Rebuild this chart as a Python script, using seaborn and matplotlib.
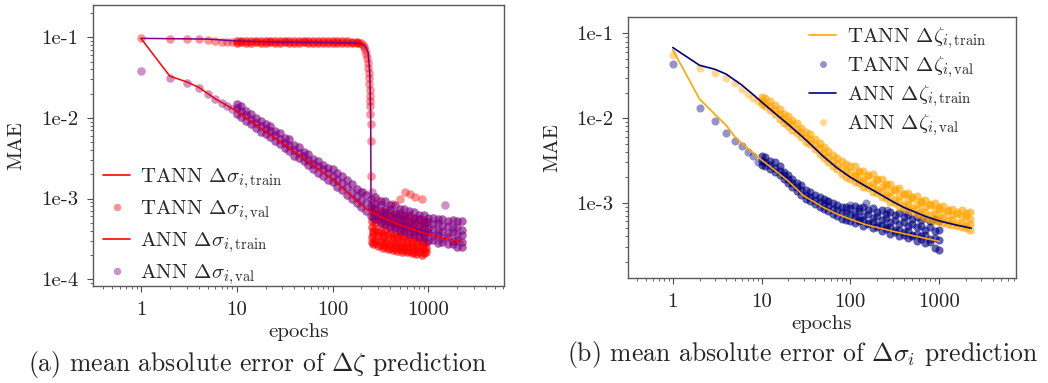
#!/usr/bin/env python3

##############################################################################
# Brief:
# learning curves (MAE over epochs) of TANN vs. plain ANN
#  left:  stress increment prediction, right: internal variable prediction
#  lines are training loss, dots are validation loss
##############################################################################

import numpy as np
import pandas as pd
import seaborn as sns
import matplotlib
matplotlib.use('Agg')
import matplotlib.pyplot as plt
from matplotlib.lines import Line2D
from matplotlib.ticker import FuncFormatter, LogLocator, NullFormatter

# ---------------------------------------------------------------- panel (a)
# TANN training loss: plateau, then collapse at ~250 epochs
a_tann_train_ep = [1, 5, 10, 30, 100, 180, 200, 220, 235, 245, 250, 252, 256, 300, 500, 1000]
a_tann_train = [0.097, 0.095, 0.090, 0.087, 0.086, 0.085, 0.083, 0.078, 0.065, 0.035,
                0.010, 0.0009, 0.00065, 0.00057, 0.00046, 0.00038]
# ANN training loss
a_ann_train_ep = [1, 2, 3, 4, 6, 10, 20, 46, 100, 150, 200, 250, 350, 500, 700, 1000, 1500, 2300]
a_ann_train = [0.097, 0.033, 0.028, 0.024, 0.0172, 0.0121, 0.0068, 0.0034, 0.00175, 0.00112,
               0.00083, 0.00068, 0.00056, 0.00047, 0.00041, 0.00036, 0.00032, 0.00029]

# TANN validation
a_tann_val_ep = [1, 2, 3, 4, 5, 6, 7, 8, 9]
a_tann_val = [0.097, 0.096, 0.096, 0.095, 0.093, 0.089, 0.088, 0.088, 0.088]
a_tann_flat_ep = [10, 11, 12.5, 14, 16, 18, 20, 22, 25, 28, 32, 35, 40, 45, 50, 56, 63, 70, 80,
                  90, 100, 112, 125, 140, 160, 180]
a_tann_flat = [
    [0.089, 0.090, 0.089, 0.090, 0.089, 0.090, 0.089, 0.090, 0.089, 0.090, 0.089, 0.090, 0.089,
     0.090, 0.089, 0.090, 0.089, 0.090, 0.089, 0.089, 0.090, 0.089, 0.089, 0.089, 0.088, 0.088],
    [0.086, 0.087, 0.086, 0.086, 0.087, 0.086, 0.086, 0.087, 0.086, 0.086, 0.087, 0.086, 0.086,
     0.086, 0.087, 0.086, 0.086, 0.086, 0.085, 0.086, 0.085, 0.086, 0.085, 0.085, 0.085, 0.084],
]
a_tann_drop_ep = [190, 200, 208, 214, 219, 224, 228, 232, 235, 238, 240, 242, 244, 245, 246,
                  247, 248, 249, 250, 251]
a_tann_drop = [0.086, 0.084, 0.080, 0.075, 0.069, 0.062, 0.055, 0.048, 0.042, 0.036, 0.031,
               0.026, 0.022, 0.0187, 0.0160, 0.0141, 0.0112, 0.0084, 0.0052, 0.0019]
a_tann_cloud_ep = [255, 265, 280, 300, 320, 340, 355, 380, 400, 425, 450, 475, 500, 530, 560,
                   600, 630, 670, 700, 750, 800, 850, 900, 950]
a_tann_cloud = [
    [7.6e-4, 6.6e-4, 7.3e-4, 6.4e-4, 7.0e-4, 6.2e-4, 6.8e-4, 6.0e-4, 6.6e-4, 5.8e-4, 6.4e-4,
     5.7e-4, 6.2e-4, 5.5e-4, 6.0e-4, 5.4e-4, 5.9e-4, 5.3e-4, 5.7e-4, 5.1e-4, 5.6e-4, 5.0e-4,
     5.4e-4, 5.0e-4],
    [5.3e-4, 5.9e-4, 5.1e-4, 5.6e-4, 4.9e-4, 5.4e-4, 4.7e-4, 5.2e-4, 4.6e-4, 5.0e-4, 4.4e-4,
     4.8e-4, 4.3e-4, 4.7e-4, 4.2e-4, 4.5e-4, 4.0e-4, 4.4e-4, 3.9e-4, 4.3e-4, 3.8e-4, 4.1e-4,
     3.7e-4, 4.0e-4],
    [4.4e-4, 3.9e-4, 4.2e-4, 3.8e-4, 4.0e-4, 3.6e-4, 3.9e-4, 3.5e-4, 3.7e-4, 3.4e-4, 3.6e-4,
     3.3e-4, 3.5e-4, 3.2e-4, 3.4e-4, 3.1e-4, 3.3e-4, 3.0e-4, 3.2e-4, 2.95e-4, 3.1e-4, 2.9e-4,
     3.0e-4, 2.85e-4],
    [3.3e-4, 3.6e-4, 3.1e-4, 3.4e-4, 3.0e-4, 3.2e-4, 2.85e-4, 3.1e-4, 2.75e-4, 2.95e-4, 2.7e-4,
     2.85e-4, 2.6e-4, 2.8e-4, 2.55e-4, 2.7e-4, 2.5e-4, 2.6e-4, 2.45e-4, 2.55e-4, 2.4e-4, 2.5e-4,
     2.35e-4, 2.4e-4],
    [2.9e-4, 2.7e-4, 2.8e-4, 2.55e-4, 2.65e-4, 2.45e-4, 2.55e-4, 2.35e-4, 2.45e-4, 2.3e-4, 2.4e-4,
     2.25e-4, 2.35e-4, 2.2e-4, 2.3e-4, 2.15e-4, 2.25e-4, 2.1e-4, 2.2e-4, 2.05e-4, 2.15e-4, 2.0e-4,
     2.1e-4, 2.2e-4],
]
a_tann_out_ep = [290, 420, 510, 575, 640, 730, 860]
a_tann_out = [9.5e-4, 8.6e-4, 1.0e-3, 1.2e-3, 1.15e-3, 1.05e-3, 1.0e-3]

# ANN validation
a_ann_val_ep = [1, 2, 3, 4, 5, 6, 7, 8, 9]
a_ann_val = [0.038, 0.0316, 0.027, 0.0233, 0.020, 0.0172, 0.0153, 0.0141, 0.0129]
a_ann_band_ep = [10, 11, 12.5, 14, 16, 18, 20, 22, 25, 28, 32, 35, 40, 45, 50, 56, 63, 70, 80,
                 90, 100, 112, 125, 140, 160, 180, 200, 225, 250]
a_ann_band = [
    [0.0150, 0.0140, 0.0122, 0.0113, 0.0099, 0.0091, 0.0083, 0.0079, 0.0069, 0.0065, 0.0056,
     0.0054, 0.0046, 0.0043, 0.0038, 0.0036, 0.0031, 0.0029, 0.0026, 0.0024, 0.0023, 0.0021,
     0.0019, 0.0017, 0.0015, 0.00132, 0.00120, 0.00110, 0.00100],
    [0.0131, 0.0121, 0.0108, 0.0097, 0.0087, 0.0079, 0.0073, 0.0068, 0.0061, 0.0055, 0.0049,
     0.0046, 0.0040, 0.0037, 0.0034, 0.0030, 0.0027, 0.0025, 0.0023, 0.0021, 0.0019, 0.0017,
     0.00155, 0.00138, 0.00121, 0.00107, 0.00096, 0.00088, 0.00080],
    [0.0112, 0.0104, 0.0092, 0.0084, 0.0075, 0.0067, 0.0063, 0.0058, 0.0052, 0.0048, 0.0042,
     0.0039, 0.0034, 0.0032, 0.0029, 0.0026, 0.0023, 0.0021, 0.0019, 0.0017, 0.0016, 0.0014,
     0.00126, 0.00112, 0.00099, 0.00087, 0.00078, 0.00069, 0.00060],
]
a_ann_tail_ep = [280, 320, 355, 400, 450, 500, 560, 630, 700, 800, 900, 1000, 1120, 1250, 1400,
                 1600, 1800, 2000, 2250]
a_ann_tail = [
    [0.00104, 0.00093, 0.00092, 0.00083, 0.00082, 0.00075, 0.00075, 0.00069, 0.00068, 0.00062,
     0.00062, 0.00058, 0.00058, 0.00055, 0.00055, 0.00053, 0.00054, 0.00052, 0.00053],
    [0.00086, 0.00083, 0.00075, 0.00075, 0.00067, 0.00067, 0.00061, 0.00062, 0.00056, 0.00056,
     0.00051, 0.00051, 0.00048, 0.00049, 0.00046, 0.00046, 0.00043, 0.00044, 0.00041],
    [0.00076, 0.00067, 0.00066, 0.00060, 0.00059, 0.00054, 0.00054, 0.00050, 0.00049, 0.00045,
     0.00045, 0.00042, 0.00042, 0.00039, 0.00040, 0.00037, 0.00038, 0.00035, 0.00035],
    [0.00062, 0.00059, 0.00054, 0.00053, 0.00048, 0.00048, 0.00044, 0.00044, 0.00040, 0.00040,
     0.00036, 0.00037, 0.00034, 0.00035, 0.00032, 0.00033, 0.00030, 0.00031, 0.00029],
    [0.00055, 0.00049, 0.00048, 0.00044, 0.00043, 0.00040, 0.00040, 0.00036, 0.00036, 0.00033,
     0.00033, 0.00030, 0.00031, 0.00028, 0.00029, 0.00027, 0.00027, 0.00025, 0.00025],
]
a_ann_out_ep = [209, 255, 1500]
a_ann_out = [0.0012, 0.0012, 0.00082]

# ---------------------------------------------------------------- panel (b)
b_tann_train_ep = [1, 2, 3, 4, 5, 6, 8, 10, 15, 20, 30, 50, 70, 100, 150, 200, 300, 500, 700, 1000]
b_tann_train = [0.064, 0.0168, 0.011, 0.0082, 0.0060, 0.0050, 0.0039, 0.0032, 0.0023, 0.0018,
                0.00120, 0.00088, 0.00074, 0.00064, 0.00055, 0.00051, 0.00046, 0.00041,
                0.00038, 0.00035]
b_ann_train_ep = [1, 2, 3, 4, 5, 6, 8, 10, 15, 20, 30, 50, 70, 100, 150, 200, 300, 400, 700,
                  1000, 1500, 2300]
b_ann_train = [0.068, 0.042, 0.0376, 0.033, 0.028, 0.0245, 0.019, 0.0155, 0.0108, 0.0084,
               0.0058, 0.0035, 0.0026, 0.0020, 0.00156, 0.00132, 0.00103, 0.00088, 0.00069,
               0.00061, 0.00055, 0.00050]

# TANN validation
b_tann_val_ep = [1, 2, 3, 4, 5, 6, 7, 8, 9]
b_tann_val = [0.0435, 0.013, 0.0092, 0.0067, 0.0053, 0.0047, 0.0040, 0.00355, 0.00305]
b_tann_band_ep = [10, 11, 12.5, 14, 16, 18, 20, 22, 25, 28, 32, 35, 40, 45, 50, 56, 63, 70, 80,
                  90, 100]
b_tann_band = [
    [0.0036, 0.0035, 0.0031, 0.0030, 0.0027, 0.0023, 0.0021, 0.0019, 0.0017, 0.0016, 0.00140,
     0.00132, 0.00122, 0.00116, 0.00110, 0.00104, 0.00098, 0.00094, 0.00090, 0.00088, 0.00086],
    [0.0031, 0.0030, 0.0028, 0.0026, 0.0024, 0.0021, 0.0019, 0.0017, 0.00155, 0.00140, 0.00125,
     0.00117, 0.00108, 0.00101, 0.00096, 0.00091, 0.00085, 0.00081, 0.00078, 0.00075, 0.00073],
    [0.0028, 0.0027, 0.0025, 0.0023, 0.0021, 0.0019, 0.0017, 0.00155, 0.00138, 0.00125, 0.00112,
     0.00104, 0.00096, 0.00089, 0.00084, 0.00079, 0.00073, 0.00069, 0.00065, 0.00062, 0.00060],
]
b_tann_tail_ep = [112, 125, 140, 160, 180, 200, 225, 250, 280, 320, 355, 400, 450, 500, 560, 630,
                  700, 800, 900, 1000]
b_tann_tail = [
    [0.00092, 0.00086, 0.00090, 0.00082, 0.00086, 0.00078, 0.00082, 0.00074, 0.00078, 0.00071,
     0.00075, 0.00068, 0.00071, 0.00065, 0.00068, 0.00063, 0.00066, 0.00061, 0.00064, 0.00060],
    [0.00074, 0.00079, 0.00070, 0.00074, 0.00066, 0.00070, 0.00062, 0.00066, 0.00059, 0.00062,
     0.00056, 0.00059, 0.00053, 0.00056, 0.00051, 0.00053, 0.00048, 0.00051, 0.00046, 0.00048],
    [0.00067, 0.00062, 0.00063, 0.00058, 0.00059, 0.00054, 0.00055, 0.00051, 0.00052, 0.00047,
     0.00048, 0.00045, 0.00046, 0.00042, 0.00043, 0.00040, 0.00041, 0.00037, 0.00038, 0.00036],
    [0.00057, 0.00060, 0.00053, 0.00056, 0.00050, 0.00052, 0.00046, 0.00049, 0.00043, 0.00045,
     0.00040, 0.00042, 0.00038, 0.00040, 0.00035, 0.00037, 0.00033, 0.00034, 0.00029, 0.00028],
]
b_tann_out_ep = [54, 100, 150, 260, 420]
b_tann_out = [0.00105, 0.00095, 0.00098, 0.00083, 0.00078]

# ANN validation
b_ann_val_ep = [1, 2, 3, 4, 5, 6, 7, 8, 9]
b_ann_val = [0.055, 0.0387, 0.034, 0.030, 0.0257, 0.022, 0.019, 0.0174, 0.016]
b_ann_band_ep = [10, 11, 12.5, 14, 16, 18, 20, 22, 25, 28, 32, 35, 40, 45, 50, 56, 63, 70, 80,
                 90, 100]
b_ann_band = [
    [0.0176, 0.0172, 0.0160, 0.0142, 0.0128, 0.0113, 0.0106, 0.0095, 0.0087, 0.0077, 0.0069,
     0.0065, 0.0057, 0.0051, 0.0045, 0.0041, 0.0037, 0.0034, 0.0031, 0.0029, 0.0027],
    [0.0160, 0.0152, 0.0140, 0.0126, 0.0111, 0.0100, 0.0091, 0.0084, 0.0075, 0.0068, 0.0060,
     0.0056, 0.0049, 0.0044, 0.0039, 0.0035, 0.0031, 0.0029, 0.0026, 0.0024, 0.0023],
    [0.0146, 0.0138, 0.0124, 0.0111, 0.0097, 0.0088, 0.0080, 0.0073, 0.0066, 0.0059, 0.0052,
     0.0049, 0.0043, 0.0038, 0.0034, 0.0030, 0.0027, 0.0025, 0.0022, 0.0020, 0.0019],
]
b_ann_tail_ep = [112, 125, 140, 160, 180, 200, 225, 250, 280, 320, 355, 400, 450, 500, 560, 630,
                 700, 800, 900, 1000, 1120, 1250, 1400, 1600, 1800, 2000, 2250]
b_ann_tail = [
    [0.0027, 0.0024, 0.0024, 0.0021, 0.0022, 0.0019, 0.0019, 0.00168, 0.00168, 0.00146, 0.00148,
     0.00128, 0.00131, 0.00116, 0.00119, 0.00105, 0.00107, 0.00096, 0.00098, 0.00089, 0.00091,
     0.00083, 0.00085, 0.00078, 0.00081, 0.00075, 0.00077],
    [0.00215, 0.0023, 0.0019, 0.00205, 0.00172, 0.00183, 0.00153, 0.00163, 0.00136, 0.00143,
     0.00120, 0.00127, 0.00107, 0.00113, 0.00097, 0.00102, 0.00088, 0.00093, 0.00081, 0.00085,
     0.00075, 0.00079, 0.00071, 0.00074, 0.00067, 0.00070, 0.00065],
    [0.00205, 0.00185, 0.00178, 0.00161, 0.00155, 0.00141, 0.00136, 0.00124, 0.00119, 0.00107,
     0.00104, 0.00095, 0.00093, 0.00086, 0.00084, 0.00078, 0.00077, 0.00071, 0.00071, 0.00066,
     0.00066, 0.00062, 0.00062, 0.00058, 0.00058, 0.00055, 0.00056],
    [0.00176, 0.00172, 0.00154, 0.00150, 0.00134, 0.00131, 0.00117, 0.00115, 0.00103, 0.00100,
     0.00090, 0.00088, 0.00081, 0.00079, 0.00073, 0.00071, 0.00066, 0.00065, 0.00061, 0.00060,
     0.00057, 0.00056, 0.00054, 0.00053, 0.00051, 0.00050, 0.00048],
]

RED, PURPLE, ORANGE, NAVY = '#ff0000', '#800080', '#ffa500', '#000080'
DOT_ALPHA = 0.42     # single, isolated dots
DENSE_ALPHA = 0.62   # bands where the real curve has one dot per epoch piled up
FS = 15


def stack(*blocks):
    # every block is (epochs, [values, values, ...]), one frame row per dot
    frames = []
    for ep, rows in blocks:
        for row in rows:
            frames.append(pd.DataFrame({'epochs': ep, 'MAE': row}))
    return pd.concat(frames, ignore_index=True)


def style_axes(ax, xlim, ylim):
    ax.set_xscale('log')
    ax.set_yscale('log')
    ax.set_xlim(*xlim)
    ax.set_ylim(*ylim)
    ax.xaxis.set_major_locator(LogLocator(base=10))
    ax.yaxis.set_major_locator(LogLocator(base=10))
    ax.xaxis.set_major_formatter(FuncFormatter(lambda v, p: '%d' % round(v)))
    ax.yaxis.set_major_formatter(FuncFormatter(lambda v, p: '1e%d' % round(np.log10(v))))
    ax.xaxis.set_minor_formatter(NullFormatter())
    ax.yaxis.set_minor_formatter(NullFormatter())
    ax.tick_params(which='major', length=4.5, width=0.8, color='0.3', pad=6, labelsize=FS)
    ax.tick_params(which='minor', length=2.5, width=0.6, color='0.3')
    for sp in ax.spines.values():
        sp.set_color('0.35')
        sp.set_linewidth(1.0)
    ax.set_xlabel('epochs', fontsize=FS, labelpad=3)
    ax.set_ylabel('MAE', fontsize=FS, labelpad=11)


def dots(ax, data, color, s, alpha):
    sns.scatterplot(x='epochs', y='MAE', data=data, color=color, alpha=alpha, s=s,
                    linewidth=0, legend=False, ax=ax)


def line(ax, ep, val, color, lw):
    sns.lineplot(x=ep, y=val, color=color, linewidth=lw, legend=False, ax=ax)


def legend_handles(c_line1, c_dot1, c_line2, c_dot2, ms):
    return [Line2D([], [], color=c_line1, lw=1.2),
            Line2D([], [], ls='none', marker='o', ms=ms, mec='none', color=c_dot1, alpha=DOT_ALPHA),
            Line2D([], [], color=c_line2, lw=1.2),
            Line2D([], [], ls='none', marker='o', ms=ms, mec='none', color=c_dot2, alpha=DOT_ALPHA)]


def create_plot(output):
    sns.set_style('ticks')
    plt.rcParams['font.family'] = ['cmr10', 'DejaVu Serif']
    plt.rcParams['mathtext.fontset'] = 'cm'
    plt.rcParams['axes.unicode_minus'] = False
    plt.rcParams['axes.formatter.use_mathtext'] = True
    plt.rcParams['xtick.labelsize'] = FS
    plt.rcParams['ytick.labelsize'] = FS

    fig = plt.figure(figsize=(10.48, 3.83), dpi=100)
    ax_a = fig.add_axes([0.0885, 0.2520, 0.3925, 0.7358])
    ax_b = fig.add_axes([0.5995, 0.2734, 0.3697, 0.6815])

    # ---- (a)
    dots(ax_a, stack((a_tann_val_ep, [a_tann_val]), (a_tann_drop_ep, [a_tann_drop]),
                     (a_tann_out_ep, [a_tann_out])), RED, 38, DOT_ALPHA)
    dots(ax_a, stack((a_tann_flat_ep, a_tann_flat), (a_tann_cloud_ep, a_tann_cloud)),
         RED, 38, DENSE_ALPHA)
    dots(ax_a, stack((a_ann_val_ep, [a_ann_val]), (a_ann_out_ep, [a_ann_out])),
         PURPLE, 38, DOT_ALPHA)
    dots(ax_a, stack((a_ann_band_ep, a_ann_band), (a_ann_tail_ep, a_ann_tail)),
         PURPLE, 38, DENSE_ALPHA)
    line(ax_a, a_tann_train_ep, a_tann_train, PURPLE, 1.1)
    line(ax_a, a_ann_train_ep, a_ann_train, RED, 1.1)
    style_axes(ax_a, (0.314, 6170), (8.1e-5, 0.254))
    ax_a.legend(legend_handles(RED, RED, RED, PURPLE, 5.4),
                [r'TANN $\Delta\sigma_{i,\mathrm{train}}$', r'TANN $\Delta\sigma_{i,\mathrm{val}}$',
                 r'ANN $\Delta\sigma_{i,\mathrm{train}}$', r'ANN $\Delta\sigma_{i,\mathrm{val}}$'],
                loc='lower left', bbox_to_anchor=(0.0, -0.04), frameon=False, fontsize=FS,
                handlelength=1.3, handletextpad=0.45, labelspacing=0.35, borderaxespad=0.1)

    # ---- (b)
    dots(ax_b, stack((b_tann_val_ep, [b_tann_val]), (b_tann_out_ep, [b_tann_out])),
         NAVY, 34, DOT_ALPHA)
    dots(ax_b, stack((b_tann_band_ep, b_tann_band), (b_tann_tail_ep, b_tann_tail)),
         NAVY, 34, DENSE_ALPHA)
    dots(ax_b, stack((b_ann_val_ep, [b_ann_val])), ORANGE, 34, DOT_ALPHA)
    dots(ax_b, stack((b_ann_band_ep, b_ann_band), (b_ann_tail_ep, b_ann_tail)),
         ORANGE, 34, DENSE_ALPHA)
    line(ax_b, b_tann_train_ep, b_tann_train, ORANGE, 1.2)
    line(ax_b, b_ann_train_ep, b_ann_train, NAVY, 1.2)
    style_axes(ax_b, (0.315, 7300), (1.28e-4, 0.155))
    ax_b.legend(legend_handles(ORANGE, NAVY, NAVY, ORANGE, 5.0),
                [r'TANN $\Delta\zeta_{i,\mathrm{train}}$', r'TANN $\Delta\zeta_{i,\mathrm{val}}$',
                 r'ANN $\Delta\zeta_{i,\mathrm{train}}$', r'ANN $\Delta\zeta_{i,\mathrm{val}}$'],
                loc='upper right', bbox_to_anchor=(0.972, 1.042), frameon=False, fontsize=FS,
                handlelength=1.3, handletextpad=0.5, labelspacing=0.15)

    # subfigure captions
    fig.text(257.5 / 1048, 1 - 365 / 383, r'(a) mean absolute error of $\Delta\zeta$ prediction',
             ha='center', va='center', fontsize=18.5)
    fig.text(803 / 1048, 1 - 355 / 383, r'(b) mean absolute error of $\Delta\sigma_i$ prediction',
             ha='center', va='center', fontsize=18.5)

    fig.savefig(output, dpi=100)


if __name__ == '__main__':
    create_plot('out.png')
